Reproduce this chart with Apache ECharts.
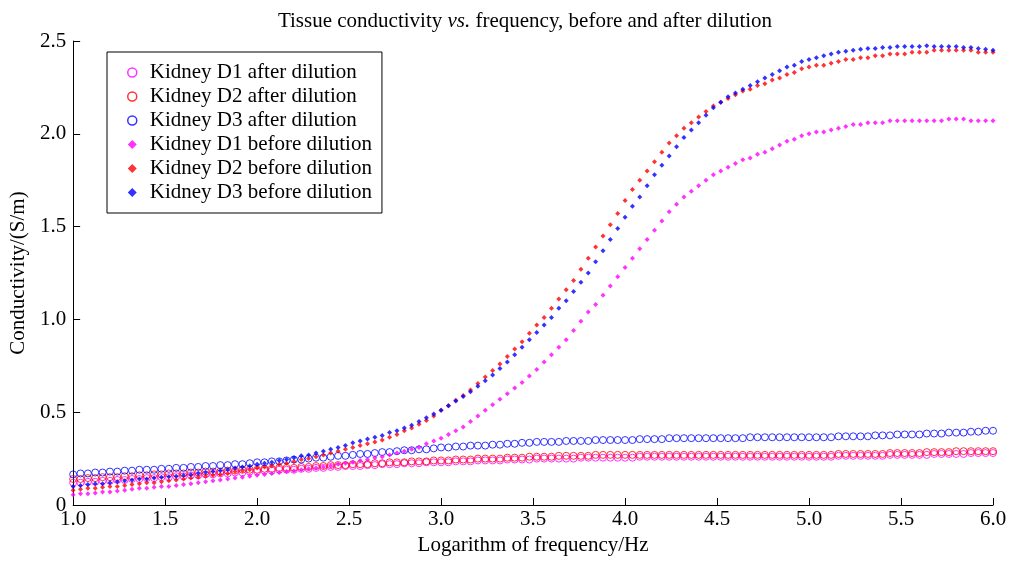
<!DOCTYPE html>
<html>
<head>
<meta charset="utf-8">
<script src="https://cdn.jsdelivr.net/npm/echarts@6/dist/echarts.min.js"></script>
<style>html,body{margin:0;padding:0;background:#fff}#c{width:1011px;height:561px}</style>
</head>
<body>
<div id="c"></div>
<script>
// Logarithm of frequency (x positions of the samples)
const logFreq = [
1.00,1.04,1.08,1.12,1.16,1.20,1.24,1.28,1.32,1.36,1.40,1.44,1.48,1.52,1.56,1.60,1.64,1.68,1.72,1.76,1.80,1.84,1.88,1.92,1.96,
2.00,2.04,2.08,2.12,2.16,2.20,2.24,2.28,2.32,2.36,2.40,2.44,2.48,2.52,2.56,2.60,2.64,2.68,2.72,2.76,2.80,2.84,2.88,2.92,2.96,
3.00,3.04,3.08,3.12,3.16,3.20,3.24,3.28,3.32,3.36,3.40,3.44,3.48,3.52,3.56,3.60,3.64,3.68,3.72,3.76,3.80,3.84,3.88,3.92,3.96,
4.00,4.04,4.08,4.12,4.16,4.20,4.24,4.28,4.32,4.36,4.40,4.44,4.48,4.52,4.56,4.60,4.64,4.68,4.72,4.76,4.80,4.84,4.88,4.92,4.96,
5.00,5.04,5.08,5.12,5.16,5.20,5.24,5.28,5.32,5.36,5.40,5.44,5.48,5.52,5.56,5.60,5.64,5.68,5.72,5.76,5.80,5.84,5.88,5.92,5.96,
6.00];

const d1After = [
.12,.12,.125,.125,.13,.13,.135,.135,.14,.14,.145,.145,.15,.15,.155,.155,.16,.16,.165,.165,.17,.17,.175,.175,.18,
.18,.185,.185,.19,.19,.19,.195,.195,.20,.20,.205,.205,.21,.21,.21,.215,.215,.22,.22,.22,.225,.225,.225,.23,.23,
.23,.23,.235,.235,.235,.24,.24,.24,.24,.245,.245,.245,.245,.25,.25,.25,.25,.25,.25,.255,.255,.255,.255,.255,.255,
.255,.255,.26,.26,.26,.26,.26,.26,.26,.26,.26,.26,.26,.26,.26,.26,.26,.26,.26,.26,.26,.26,.26,.26,.26,
.26,.26,.26,.26,.265,.265,.265,.265,.265,.265,.265,.27,.27,.27,.27,.27,.27,.275,.275,.275,.275,.275,.28,.28,.28,
.28];

const d2After = [
.14,.14,.145,.145,.15,.15,.15,.155,.155,.16,.16,.165,.165,.17,.17,.17,.175,.175,.18,.18,.18,.185,.185,.19,.19,
.19,.195,.195,.20,.20,.20,.205,.205,.21,.21,.215,.215,.215,.22,.22,.22,.225,.225,.23,.23,.23,.235,.235,.235,.24,
.24,.24,.245,.245,.245,.25,.25,.25,.25,.255,.255,.255,.26,.26,.26,.26,.265,.265,.265,.265,.265,.27,.27,.27,.27,
.27,.27,.27,.27,.27,.27,.27,.27,.27,.27,.27,.27,.27,.27,.27,.27,.27,.27,.27,.27,.27,.27,.27,.27,.27,
.27,.27,.27,.27,.275,.275,.275,.275,.275,.275,.275,.28,.28,.28,.28,.28,.285,.285,.285,.285,.29,.29,.29,.29,.29,
.29];

const d3After = [
.165,.17,.17,.175,.175,.18,.18,.185,.185,.19,.19,.19,.195,.195,.20,.20,.205,.205,.21,.21,.215,.215,.22,.22,.225,
.23,.23,.235,.235,.24,.245,.245,.25,.255,.255,.26,.265,.265,.27,.275,.275,.28,.285,.285,.29,.295,.295,.30,.30,.305,
.31,.31,.315,.315,.32,.32,.32,.325,.325,.33,.33,.335,.335,.34,.34,.34,.34,.345,.345,.345,.345,.35,.35,.35,.35,
.35,.35,.355,.355,.355,.355,.36,.36,.36,.36,.36,.36,.36,.36,.36,.36,.36,.365,.365,.365,.365,.365,.365,.365,.365,
.365,.365,.365,.365,.37,.37,.37,.37,.37,.375,.375,.375,.38,.38,.38,.38,.385,.385,.385,.39,.39,.39,.395,.395,.40,
.40];

const d1Before = [
.055,.06,.06,.065,.07,.07,.075,.08,.085,.09,.09,.095,.10,.10,.105,.11,.115,.12,.125,.13,.135,.14,.145,.15,.155,
.16,.165,.17,.175,.18,.185,.19,.195,.20,.205,.21,.22,.225,.23,.24,.245,.255,.26,.27,.28,.29,.30,.31,.33,.345,
.36,.38,.40,.42,.45,.48,.51,.54,.57,.60,.63,.66,.695,.73,.77,.81,.85,.89,.94,.99,1.04,1.08,1.13,1.18,1.23,
1.28,1.33,1.38,1.43,1.48,1.53,1.58,1.62,1.66,1.69,1.72,1.75,1.78,1.80,1.82,1.84,1.86,1.87,1.89,1.90,1.92,1.94,1.96,1.97,1.99,
2.00,2.01,2.01,2.02,2.03,2.04,2.05,2.05,2.06,2.06,2.06,2.07,2.07,2.07,2.07,2.07,2.07,2.07,2.07,2.08,2.08,2.08,2.07,2.07,2.07,
2.07];

const d2Before = [
.08,.085,.09,.09,.095,.10,.10,.105,.11,.115,.12,.12,.125,.13,.135,.14,.145,.15,.155,.16,.165,.17,.18,.185,.19,
.20,.205,.21,.22,.225,.235,.245,.25,.26,.27,.28,.29,.30,.31,.32,.33,.34,.35,.365,.38,.40,.415,.435,.455,.48,
.51,.535,.565,.59,.62,.655,.69,.725,.76,.80,.84,.88,.925,.97,1.01,1.06,1.11,1.16,1.21,1.27,1.33,1.39,1.45,1.51,1.57,
1.64,1.70,1.75,1.80,1.85,1.90,1.95,1.99,2.03,2.06,2.09,2.12,2.15,2.17,2.19,2.21,2.23,2.24,2.26,2.27,2.29,2.30,2.32,2.33,2.35,
2.36,2.37,2.37,2.38,2.39,2.40,2.40,2.41,2.41,2.42,2.42,2.43,2.43,2.43,2.44,2.44,2.44,2.45,2.45,2.45,2.45,2.45,2.45,2.44,2.44,
2.44];

const d3Before = [
.10,.105,.11,.115,.115,.12,.125,.13,.135,.14,.14,.145,.15,.152,.155,.16,.165,.17,.175,.18,.185,.19,.20,.205,.21,
.22,.225,.23,.24,.245,.255,.265,.27,.28,.29,.30,.31,.32,.335,.345,.355,.365,.375,.39,.40,.415,.43,.45,.47,.49,
.51,.535,.56,.585,.61,.64,.67,.70,.735,.77,.81,.85,.89,.93,.97,1.01,1.06,1.10,1.15,1.20,1.25,1.31,1.37,1.43,1.49,
1.55,1.61,1.66,1.72,1.78,1.83,1.88,1.93,1.98,2.02,2.06,2.10,2.14,2.17,2.20,2.22,2.24,2.26,2.28,2.30,2.32,2.34,2.36,2.37,2.39,
2.40,2.41,2.42,2.43,2.44,2.445,2.45,2.455,2.46,2.46,2.465,2.465,2.47,2.47,2.47,2.47,2.475,2.47,2.47,2.47,2.47,2.465,2.465,2.46,2.455,
2.45];

const seriesNames = ['Kidney D1 after dilution','Kidney D2 after dilution','Kidney D3 after dilution',
  'Kidney D1 before dilution','Kidney D2 before dilution','Kidney D3 before dilution'];
const seriesValues = [d1After, d2After, d3After, d1Before, d2Before, d3Before];
const seriesColors = ['#ff00ff','#ff0000','#0000ff','#ff00ff','#ff0000','#0000ff'];
const xTicks = [1.0,1.5,2.0,2.5,3.0,3.5,4.0,4.5,5.0,5.5,6.0];
const yTicks = [0,0.5,1.0,1.5,2.0,2.5];

const FONT = '"Liberation Serif","Times New Roman",serif';
const chart = echarts.init(document.getElementById('c'), null, {renderer:'canvas'});

const series = seriesValues.map((vals, k) => {
  const after = k < 3;
  return {
    name: seriesNames[k],
    type: 'scatter',
    data: logFreq.map((x, i) => [x, vals[i]]),
    symbol: after ? 'circle' : 'diamond',
    symbolSize: after ? 7 : [5, 5],
    itemStyle: after
      ? {color: 'rgba(255,255,255,0)', borderColor: seriesColors[k], borderWidth: 1}
      : {color: seriesColors[k]},
    emphasis: {disabled: true},
    silent: true
  };
});

chart.setOption({
  animation: false,
  backgroundColor: '#fff',
  title: {
    text: 'Tissue conductivity {i|vs.} frequency, before and after dilution',
    left: 520, top: 6, textAlign: 'center',
    textStyle: {
      fontFamily: FONT, fontSize: 21, fontWeight: 'normal', color: '#000',
      rich: {i: {fontFamily: FONT, fontSize: 21, fontStyle: 'italic', color: '#000'}}
    }
  },
  grid: {left: 72, right: 18, top: 41, bottom: 55, containLabel: false},
  legend: {
    orient: 'vertical', left: 107, top: 52,
    padding: [10, 10, 10, 20],
    borderColor: '#000', borderWidth: 1,
    itemWidth: 9, itemHeight: 9, itemGap: 3,
    textStyle: {fontFamily: FONT, fontSize: 21, color: '#000', padding: [0,0,0,8]},
    data: seriesNames.map((n, k) => ({
      name: n,
      icon: k < 3 ? 'circle' : 'diamond',
      itemStyle: k < 3
        ? {color: 'rgba(255,255,255,0)', borderColor: seriesColors[k], borderWidth: 1.5}
        : {color: seriesColors[k], borderWidth: 0}
    }))
  },
  xAxis: {
    type: 'value', min: 1, max: 6, interval: 0.5,
    name: 'Logarithm of frequency/Hz', nameLocation: 'middle', nameGap: 30,
    nameTextStyle: {fontFamily: FONT, fontSize: 21, color: '#000'},
    axisLine: {lineStyle: {color: '#000', width: 1}},
    axisTick: {inside: true, length: 7, lineStyle: {color: '#000'}},
    splitLine: {show: false},
    axisLabel: {fontFamily: FONT, fontSize: 21, color: '#000', margin: 4,
      formatter: v => xTicks.includes(+v.toFixed(1)) ? v.toFixed(1) : ''}
  },
  yAxis: {
    type: 'value', min: 0, max: 2.5, interval: 0.5,
    name: 'Conductivity/(S/m)', nameLocation: 'middle', nameGap: 44, nameRotate: 90,
    nameTextStyle: {fontFamily: FONT, fontSize: 21, color: '#000'},
    axisLine: {show: true, lineStyle: {color: '#000', width: 1}},
    axisTick: {show: true, inside: true, length: 7, lineStyle: {color: '#000'}},
    splitLine: {show: false},
    axisLabel: {fontFamily: FONT, fontSize: 21, color: '#000', margin: 7,
      formatter: v => yTicks.includes(+v.toFixed(1)) ? (v === 0 ? '0' : v.toFixed(1)) : ''}
  },
  series: series
});
</script>
</body>
</html>
